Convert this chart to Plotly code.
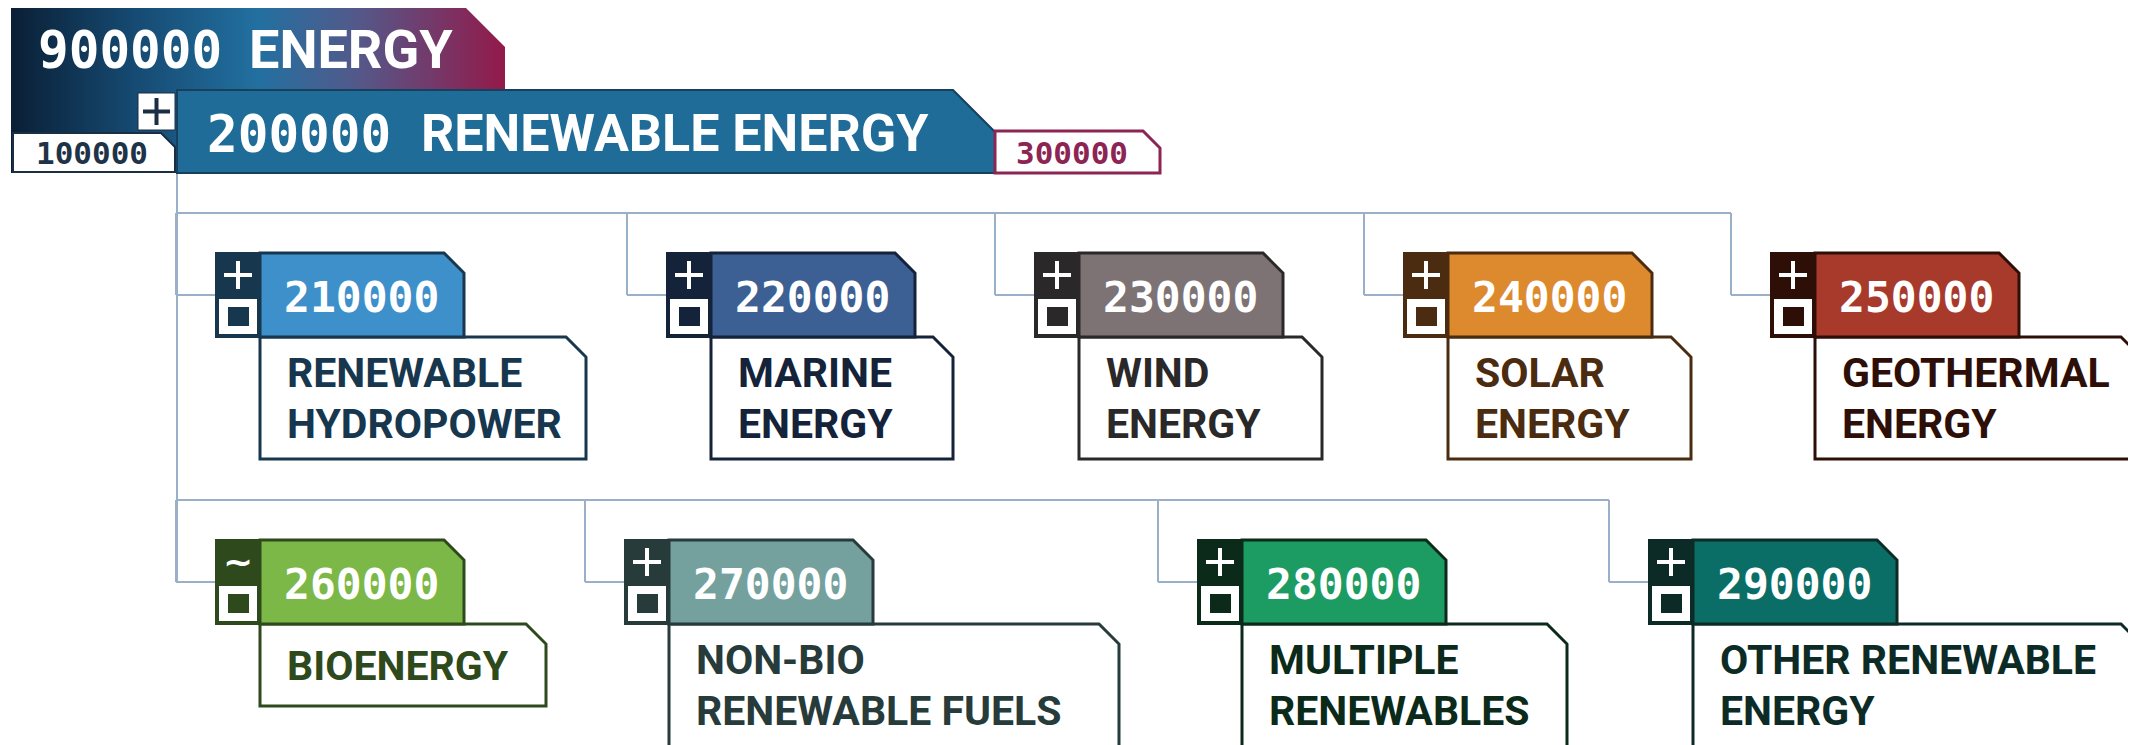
import plotly.graph_objects as go

# --- hierarchy text ---
top_code = "900000"
top_name = "ENERGY"
sub_code = "200000"
sub_name = "RENEWABLE ENERGY"
prev_code = "100000"
next_code = "300000"

codes = ["210000", "220000", "230000", "240000", "250000",
         "260000", "270000", "280000", "290000"]
names = [["RENEWABLE", "HYDROPOWER"], ["MARINE", "ENERGY"], ["WIND", "ENERGY"],
         ["SOLAR", "ENERGY"], ["GEOTHERMAL", "ENERGY"], ["BIOENERGY"],
         ["NON-BIO", "RENEWABLE FUELS"], ["MULTIPLE", "RENEWABLES"],
         ["OTHER RENEWABLE", "ENERGY"]]
icons = ["+", "+", "+", "+", "+", "~", "+", "+", "+"]
fills = ["#3d90c9", "#3c5f94", "#7d7374", "#dd8a2f", "#a83a2c",
         "#7cb847", "#74a19e", "#1c9b62", "#0b6e66"]
inks = ["#17374f", "#14233a", "#2a2829", "#4b2c10", "#2d0f08",
        "#2e4a1c", "#263b3a", "#0b2a1a", "#0d2b26"]

# tile placement (pixels)
rows = [0, 0, 0, 0, 0, 1, 1, 1, 1]
lefts = [216, 667, 1035, 1404, 1771, 216, 625, 1198, 1649]
label_w = [326, 242, 243, 243, 326, 286, 450, 325, 448]
row_top = [253, 540]
row_bus = [213, 500]

W, H = 2136, 745
OFF = 8  # page body margin
ICON_W, HEAD_W, HEAD_H, CH = 44, 204, 84, 20
LINE = "#9ab0c8"
MONO = "DejaVu Sans Mono"
SANS = "Roboto"


def tab_path(x0, y0, x1, y1, c):
    return f"M{x0},{y0} L{x1 - c},{y0} L{x1},{y0 + c} L{x1},{y1} L{x0},{y1} Z"


shapes = []
annos = []


def add_path(p, fill, line, lw):
    shapes.append(dict(type="path", path=p, xref="x", yref="y", fillcolor=fill,
                       line=dict(color=line, width=lw), layer="above"))


def add_line(x0, y0, x1, y1, color, lw):
    shapes.append(dict(type="line", x0=x0, y0=y0, x1=x1, y1=y1, xref="x", yref="y",
                       line=dict(color=color, width=lw), layer="above"))


def add_text(x, y, txt, fam, size, color, anchor="left"):
    annos.append(dict(x=x, y=y, xref="x", yref="y", text=txt, showarrow=False,
                      xanchor=anchor, yanchor="middle",
                      font=dict(family=fam, size=size, color=color, weight="bold")))


fig = go.Figure()

# gradient top block
gx = [11, 465, 505, 505, 11, 11]
gy = [7, 7, 47, 173, 173, 7]
fig.add_trace(go.Scatter(
    x=gx, y=gy, mode="lines", fill="toself", line=dict(width=0),
    fillgradient=dict(type="horizontal",
                      colorscale=[[0, "#0a1f35"], [0.25, "#164a72"], [0.5, "#2270a0"],
                                  [0.7, "#53598a"], [1, "#931a4a"]]),
    hoverinfo="skip"))

# connectors
add_line(177, 173, 177, row_top[1] + HEAD_H / 2, LINE, 2)
for r in (0, 1):
    idx = [i for i in range(len(codes)) if rows[i] == r]
    xmax = max(lefts[i] - 40 for i in idx)
    add_line(177, row_bus[r], xmax, row_bus[r], LINE, 2)
    for i in idx:
        xd = lefts[i] - 40
        ym = row_top[r] + HEAD_H / 2
        add_line(xd, row_bus[r], xd, ym, LINE, 2)
        add_line(xd, ym, lefts[i], ym, LINE, 2)

# second level bar
add_path(tab_path(177, 90, 995, 173, 42), "#1f6c99", "#17405c", 2)
add_path(tab_path(995, 131, 1160, 173, 17), "white", "#8c2454", 3)
add_path(tab_path(13, 133, 175, 172, 14), "white", "#1a2e44", 2)
shapes.append(dict(type="rect", x0=138, y0=93, x1=175, y1=130, xref="x", yref="y",
                   fillcolor="white", line=dict(color="#1a2e44", width=1), layer="above"))
add_line(143, 111.5, 170, 111.5, "#1a2e44", 4)
add_line(156.5, 98, 156.5, 125, "#1a2e44", 4)

add_text(36, 50, top_code, MONO, 51, "white")
add_text(247, 49, top_name, SANS, 54, "white")
add_text(205, 134, sub_code, MONO, 51, "white")
add_text(419, 133, sub_name, SANS, 52, "white")
add_text(92, 153, prev_code, MONO, 31, "#1e3348", "center")
add_text(1072, 153, next_code, MONO, 31, "#8c2454", "center")

# child tiles
for i, code in enumerate(codes):
    r = rows[i]
    xl = lefts[i]
    yt = row_top[r]
    yb = yt + HEAD_H
    ink = inks[i]
    hx = xl + ICON_W
    # label box
    if len(names[i]) == 1:
        lb = yb + 82
    elif r == 0:
        lb = yb + 122
    else:
        lb = yb + 150
    add_path(tab_path(hx, yb, hx + label_w[i], lb, CH), "white", ink, 3)
    # header
    add_path(tab_path(hx, yt, hx + HEAD_W, yb, CH), fills[i], ink, 3)
    # icon column
    shapes.append(dict(type="rect", x0=xl, y0=yt, x1=hx, y1=yb, xref="x", yref="y",
                       fillcolor=ink, line=dict(color=ink, width=2), layer="above"))
    shapes.append(dict(type="rect", x0=xl + 3, y0=yt + 46, x1=hx - 3, y1=yb - 3,
                       xref="x", yref="y", fillcolor="white", line=dict(width=0),
                       layer="above"))
    shapes.append(dict(type="rect", x0=xl + 12, y0=yt + 54, x1=hx - 11, y1=yb - 11,
                       xref="x", yref="y", fillcolor=ink, line=dict(width=0),
                       layer="above"))
    if icons[i] == "+":
        add_line(xl + 8, yt + 22, xl + 36, yt + 22, "white", 4)
        add_line(xl + 22, yt + 8, xl + 22, yt + 36, "white", 4)
    else:
        add_text(xl + 22, yt + 21, "~", "DejaVu Sans", 36, "white", "center")
    add_text(hx + 22, yt + 44, code, MONO, 43, "white")
    if len(names[i]) == 1:
        add_text(hx + 25, yb + 42, names[i][0], SANS, 41, ink)
    else:
        add_text(hx + 25, yb + 36, names[i][0], SANS, 41, ink)
        add_text(hx + 25, yb + 87, names[i][1], SANS, 41, ink)

fig.update_layout(
    width=W, height=H, margin=dict(l=0, r=0, t=0, b=0),
    paper_bgcolor="white", plot_bgcolor="white", showlegend=False,
    xaxis=dict(range=[OFF, W + OFF], visible=False, fixedrange=True),
    yaxis=dict(range=[H + OFF, OFF], visible=False, fixedrange=True),
    shapes=shapes, annotations=annos,
)

fig.write_html("out.html")
